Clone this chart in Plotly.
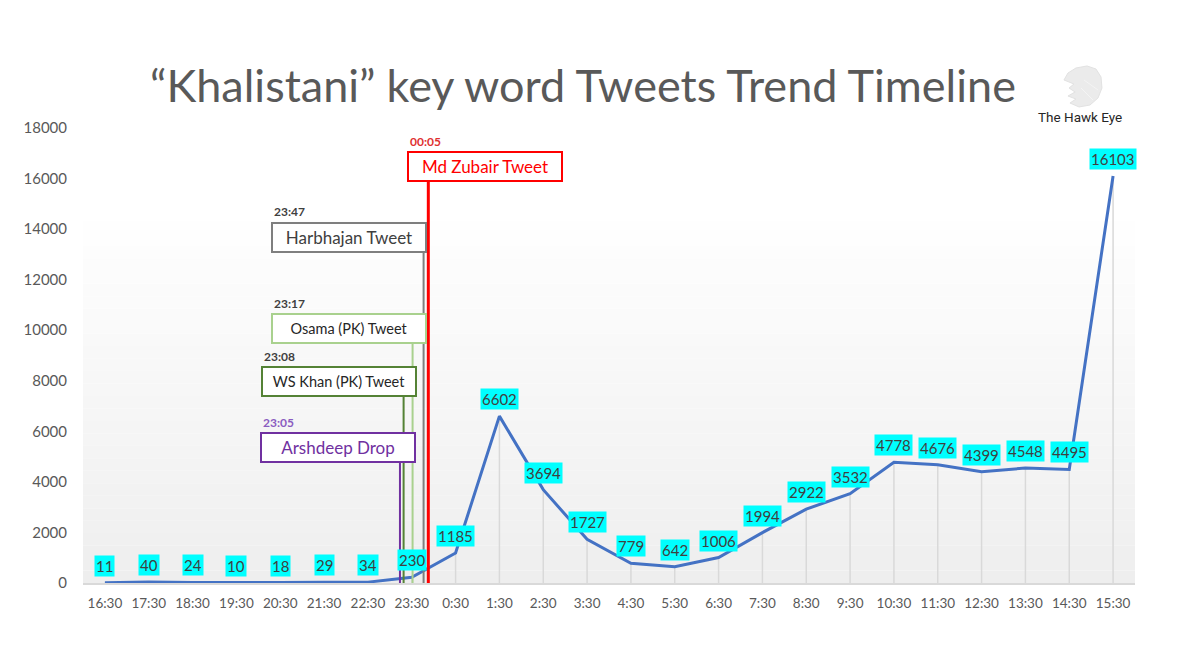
import plotly.graph_objects as go

# ---------------- data ----------------
times = ["16:30", "17:30", "18:30", "19:30", "20:30", "21:30", "22:30", "23:30",
         "0:30", "1:30", "2:30", "3:30", "4:30", "5:30", "6:30", "7:30", "8:30",
         "9:30", "10:30", "11:30", "12:30", "13:30", "14:30", "15:30"]
tweets = [11, 40, 24, 10, 18, 29, 34, 230, 1185, 6602, 3694, 1727, 779, 642,
          1006, 1994, 2922, 3532, 4778, 4676, 4399, 4548, 4495, 16103]

event_names = ["Arshdeep Drop", "WS Khan (PK) Tweet", "Osama (PK) Tweet",
               "Harbhajan Tweet", "Md Zubair Tweet"]
event_times = ["23:05", "23:08", "23:17", "23:47", "00:05"]
# position of each event line along the category axis (index units)
event_x = [6.731, 6.814, 7.019, 7.27, 7.378]
# box centres (category index, value)
event_box_y = [5341, 7971, 10068, 13688, 16477]
event_box_x = [5.311, 5.345, 5.562, 5.573, 8.668]

# ---------------- styles ----------------
event_colors = ["#7030A0", "#548235", "#A9D18E", "#7F7F7F", "#FF0000"]
event_text_colors = ["#7030A0", "#262626", "#262626", "#404040", "#FF0000"]
event_time_colors = ["#8A5CC0", "#404040", "#404040", "#404040", "#E03030"]
event_font_sizes = [17, 14.5, 14.5, 17, 17]

FONT = "Lato"
n = len(times)
idx = list(range(n))

# page-pixel -> paper helpers (plot area spans 83..1135 x 128..583 on the page)
def px(x):
    return (x - 83) / 1052.0

def py(y):
    return (583 - y) / 455.0

fig = go.Figure()

# drop lines from each point to the axis
fig.add_trace(go.Scatter(
    x=idx, y=tweets, mode="markers",
    marker=dict(size=1, color="rgba(0,0,0,0)"),
    error_y=dict(type="data", symmetric=False, array=[0] * n, arrayminus=tweets,
                 color="#D9D9D9", thickness=1.5, width=0),
    hoverinfo="skip", showlegend=False))

# main line
fig.add_trace(go.Scatter(
    x=idx, y=tweets, mode="lines",
    line=dict(color="#4472C4", width=3),
    showlegend=False))

shapes = []
# background gradient (white at top -> light grey at bottom)
nb = 30
top_val = 14800
for i in range(nb):
    y0 = top_val * i / nb
    y1 = top_val * (i + 1) / nb
    t = 1 - (i + 0.5) / nb
    g = int(round(255 - 17 * t))
    shapes.append(dict(type="rect", xref="paper", yref="y", x0=0, x1=1, y0=y0, y1=y1,
                       fillcolor=f"rgb({g},{g},{g})", line=dict(width=0), layer="below"))

# event vertical lines from the axis up to the bottom of each box
box_half_h = 14.5 / 0.025278
for k in range(len(event_names)):
    shapes.append(dict(type="line", xref="x", yref="y",
                       x0=event_x[k], x1=event_x[k], y0=-150,
                       y1=event_box_y[k] - box_half_h,
                       line=dict(color=event_colors[k], width=3 if k == 4 else 2),
                       layer="above"))

# faint eagle logo (head facing left, feathers sweeping down)
pts = [(1064, 80), (1068, 73), (1076, 68), (1087, 66), (1096, 69), (1101, 77),
       (1102, 88), (1098, 98), (1090, 105), (1079, 107), (1070, 103), (1076, 99),
       (1068, 96), (1075, 92), (1069, 88), (1074, 84)]
path = "M " + " L ".join(f"{px(a):.4f},{py(b):.4f}" for a, b in pts) + " Z"
shapes.append(dict(type="path", xref="paper", yref="paper", path=path,
                   fillcolor="#EBEBEB", line=dict(color="#E2E2E2", width=1)))
for (a0, b0, a1, b1) in [(1084, 80, 1098, 90), (1081, 88, 1093, 100)]:
    shapes.append(dict(type="line", xref="paper", yref="paper",
                       x0=px(a0), y0=py(b0), x1=px(a1), y1=py(b1),
                       line=dict(color="#F4F4F4", width=1)))

annotations = []
# data labels
for i in idx:
    annotations.append(dict(x=i, y=tweets[i], xref="x", yref="y", text=str(tweets[i]),
                            showarrow=False, yshift=17, bgcolor="#00FFFF",
                            borderpad=1,
                            font=dict(family=FONT, size=15, color="#404040")))

# event boxes
for k in range(len(event_names)):
    annotations.append(dict(x=event_box_x[k], y=event_box_y[k], xref="x", yref="y",
                            text=event_names[k], showarrow=False,
                            width=150, height=25, borderpad=1, borderwidth=2,
                            bordercolor=event_colors[k], bgcolor="white",
                            font=dict(family=FONT, size=event_font_sizes[k],
                                      color=event_text_colors[k])))
    left = event_box_x[k] - 77 / 43.78
    annotations.append(dict(x=left, y=event_box_y[k] + 1000, xref="x", yref="y",
                            text="<b>" + event_times[k] + "</b>", showarrow=False,
                            xanchor="left", yanchor="middle",
                            font=dict(family=FONT, size=12,
                                      color=event_time_colors[k])))

# title
annotations.append(dict(x=px(583), y=py(85), xref="paper", yref="paper",
                        text="“Khalistani” key word Tweets Trend Timeline",
                        showarrow=False, xanchor="center", yanchor="middle",
                        font=dict(family=FONT, size=45, color="#595959")))
# logo text
annotations.append(dict(x=px(1080), y=py(117), xref="paper", yref="paper",
                        text="The Hawk Eye", showarrow=False,
                        xanchor="center", yanchor="middle",
                        font=dict(family="Liberation Sans Narrow, Roboto", size=13.5,
                                  color="#262626")))

# figure is offset by the page's 8px body margin, so size/margins compensate
fig.update_layout(
    width=1184, height=653,
    margin=dict(l=75, r=57, t=120, b=78),
    paper_bgcolor="white", plot_bgcolor="white",
    shapes=shapes, annotations=annotations,
    showlegend=False,
    xaxis=dict(tickmode="array", tickvals=idx, ticktext=times, range=[-0.5, n - 0.5],
               showgrid=False, zeroline=False, showline=True, linecolor="#D9D9D9",
               linewidth=1.5, ticks="", ticklabelstandoff=7,
               tickfont=dict(family=FONT, size=13.5, color="#595959")),
    yaxis=dict(range=[0, 18000], dtick=2000, showgrid=False, zeroline=False,
               showline=False, ticks="", ticklabelstandoff=15, tickformat="d",
               tickfont=dict(family=FONT, size=15, color="#595959")),
)

fig.write_html("out.html")
